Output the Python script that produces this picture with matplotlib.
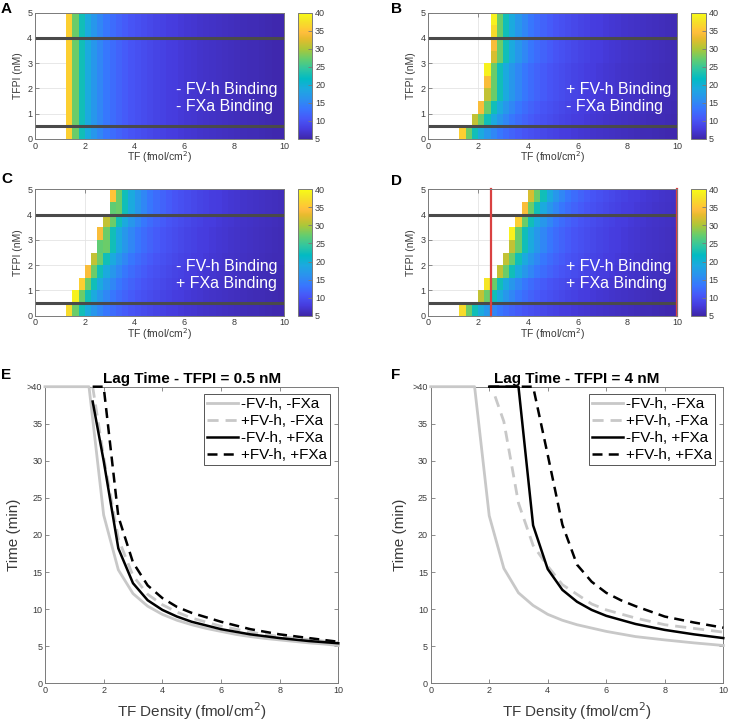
import numpy as np
import matplotlib
matplotlib.use('Agg')
import matplotlib.pyplot as plt
from matplotlib.colors import LinearSegmentedColormap

plt.rcParams['font.family'] = ['Liberation Sans', 'DejaVu Sans']

# ---- heatmap data (TF columns of 0.25, TFPI rows of 0.5 nM) ----
tf_edges = np.arange(0, 10.01, 0.25)
tfpi_edges = np.arange(0, 5.01, 0.5)

# lag time (min) in the cells after the first clotting cell of a row
lag_after_onset = [27.5, 22.5, 19.0, 16.8, 15.0, 13.6, 12.5, 11.6, 10.9, 10.3,
                   9.8, 9.4, 9.0, 8.6, 8.3, 8.0, 7.75, 7.5, 7.3, 7.1,
                   6.9, 6.7, 6.55, 6.4, 6.25, 6.1, 6.0, 5.9, 5.8, 5.7,
                   5.6, 5.5, 5.4, 5.3]

# first TF column that clots, per TFPI row (bottom to top), and its lag time
onset_A = [1.25, 1.25, 1.25, 1.25, 1.25, 1.25, 1.25, 1.25, 1.25, 1.25]
first_A = [36, 36, 36, 36, 36, 36, 36, 36, 36, 36]
onset_B = [1.25, 1.75, 2.0, 2.25, 2.25, 2.25, 2.5, 2.5, 2.5, 2.5]
first_B = [36, 31, 34, 31, 34, 39, 32, 34, 37, 39]
onset_C = [1.25, 1.5, 1.75, 2.0, 2.25, 2.5, 2.5, 2.75, 3.0, 3.0]
first_C = [37, 39, 36, 34, 31, 27, 34, 31, 27, 35]
onset_D = [1.25, 2.0, 2.25, 2.75, 3.0, 3.25, 3.25, 3.5, 3.75, 4.0]
first_D = [37, 31, 38, 31, 31, 31, 39, 36, 34, 32]

notes = ['- FV-h Binding\n- FXa Binding', '+ FV-h Binding\n- FXa Binding',
         '- FV-h Binding\n+ FXa Binding', '+ FV-h Binding\n+ FXa Binding']

# ---- lag time curves ----
series_labels = ['-FV-h, -FXa', '+FV-h, -FXa', '-FV-h, +FXa', '+FV-h, +FXa']

e_gs_x = [0, 1.5, 2.0, 2.5, 3.0, 3.5, 4.0, 4.5, 5.0, 5.5, 6.0, 6.5, 7.0, 7.5, 8.0, 8.5, 9.0, 9.5, 10.0]
e_gs_y = [40, 40, 22.7, 15.3, 12.1, 10.4, 9.3, 8.5, 7.9, 7.4, 7.0, 6.6, 6.3, 6.05, 5.85, 5.65, 5.45, 5.3, 5.1]
e_gd_x = [1.625, 2.0, 2.5, 3.0, 3.5, 4.0, 4.5, 5.0, 6.0, 7.0, 8.0, 9.0, 10.0]
e_gd_y = [40, 30.5, 19.5, 14.5, 12.0, 10.6, 9.6, 8.8, 7.7, 6.9, 6.3, 5.9, 5.5]
e_bs_x = [1.625, 2.0, 2.5, 3.0, 3.5, 4.0, 4.5, 5.0, 6.0, 7.0, 8.0, 9.0, 10.0]
e_bs_y = [38, 30, 18.2, 13.5, 11.2, 9.9, 9.0, 8.3, 7.3, 6.6, 6.1, 5.7, 5.4]
e_bd_x = [1.625, 2.0, 2.5, 3.0, 3.5, 4.0, 4.5, 5.0, 6.0, 7.0, 8.0, 9.0, 10.0]
e_bd_y = [40, 40, 22.5, 16.3, 13.2, 11.5, 10.3, 9.5, 8.3, 7.3, 6.6, 6.1, 5.6]

f_gs_x = [0, 1.5, 2.0, 2.5, 3.0, 3.5, 4.0, 4.5, 5.0, 6.0, 7.0, 8.0, 9.0, 10.0]
f_gs_y = [40, 40, 22.6, 15.5, 12.2, 10.5, 9.3, 8.5, 7.9, 7.0, 6.3, 5.85, 5.45, 5.1]
f_gd_x = [2.2, 2.5, 3.0, 3.5, 4.0, 4.5, 5.0, 5.5, 6.0, 7.0, 8.0, 9.0, 10.0]
f_gd_y = [38.7, 35.3, 24.3, 18.6, 15.8, 13.3, 12.0, 10.7, 9.9, 8.8, 7.9, 7.4, 6.9]
f_bs_x = [2.0, 3.0, 3.5, 4.0, 4.5, 5.0, 5.5, 6.0, 7.0, 8.0, 9.0, 10.0]
f_bs_y = [40, 40, 21.3, 15.4, 12.6, 11.0, 9.9, 9.1, 8.0, 7.2, 6.6, 6.1]
f_bd_x = [2.0, 3.5, 4.0, 4.5, 5.0, 5.5, 6.0, 6.5, 7.0, 8.0, 9.0, 10.0]
f_bd_y = [40, 40, 30.8, 21.4, 16.0, 13.7, 12.2, 11.2, 10.4, 9.0, 8.2, 7.5]

# parula-like colormap
parula = LinearSegmentedColormap.from_list('parula', [
    (0.000, (0.2422, 0.1504, 0.6603)),
    (0.079, (0.2751, 0.2342, 0.8710)),
    (0.159, (0.2795, 0.3447, 0.9717)),
    (0.238, (0.2206, 0.4603, 0.9973)),
    (0.317, (0.1687, 0.5703, 0.9359)),
    (0.397, (0.1113, 0.6635, 0.8763)),
    (0.476, (0.0067, 0.7312, 0.7660)),
    (0.556, (0.1938, 0.7758, 0.6251)),
    (0.635, (0.3909, 0.8029, 0.4354)),
    (0.714, (0.6720, 0.7793, 0.2227)),
    (0.794, (0.9035, 0.7330, 0.1774)),
    (0.841, (0.9956, 0.7434, 0.2371)),
    (0.873, (0.9952, 0.7893, 0.2028)),
    (0.921, (0.9676, 0.8639, 0.1643)),
    (0.952, (0.9597, 0.9135, 0.1423)),
    (1.000, (0.9769, 0.9839, 0.0805)),
])

AXC = '#7a7a7a'
TXC = '#3a3a3a'


def style_axes(ax, size):
    for s in ax.spines.values():
        s.set_color(AXC)
        s.set_linewidth(0.7)
    ax.tick_params(direction='in', length=3, width=0.6, colors=AXC,
                   labelcolor=TXC, labelsize=size, top=True, right=True, pad=2)


def heat_panel(ax, cax, onset, first, note):
    Z = np.full((len(tfpi_edges) - 1, len(tf_edges) - 1), np.nan)
    for r in range(len(onset)):
        c0 = int(round(onset[r] / 0.25))
        Z[r, c0] = first[r]
        n = Z.shape[1] - c0 - 1
        Z[r, c0 + 1:] = lag_after_onset[:n]
    m = ax.pcolormesh(tf_edges, tfpi_edges, Z, cmap=parula, vmin=5, vmax=40)
    ax.set_xlim(0, 10)
    ax.set_ylim(0, 5)
    ax.set_xticks([0, 2, 4, 6, 8, 10])
    ax.set_yticks([0, 1, 2, 3, 4, 5])
    ax.set_axisbelow(True)
    ax.grid(True, color='#e4e4e4', lw=0.6)
    for yv in (0.5, 4):
        ax.axhline(yv, color='#4a4a4a', lw=2.2)
    ax.text(9.75, 1.62, note, ha='right', va='center', multialignment='left',
            color='white', fontsize=11.5, linespacing=1.15)
    ax.set_xlabel('TF (fmol/cm$^2$)', fontsize=7.5, color=TXC, labelpad=-1)
    ax.set_ylabel('TFPI (nM)', fontsize=7.5, color=TXC, labelpad=3)
    style_axes(ax, 6.5)
    cb = fig.colorbar(m, cax=cax, ticks=range(5, 45, 5))
    cb.outline.set_edgecolor(AXC)
    cb.outline.set_linewidth(0.7)
    cax.tick_params(direction='in', length=3, width=0.6, colors=AXC,
                    labelcolor=TXC, labelsize=6.5, pad=2)
    return ax


def lag_panel(ax, curves, title):
    styles = [dict(color='#c8c8c8', lw=2.0),
              dict(color='#c8c8c8', lw=2.0, ls='--', dashes=(4, 2.5)),
              dict(color='black', lw=1.8),
              dict(color='black', lw=1.8, ls='--', dashes=(4, 2.5))]
    for (x, y), st, lab in zip(curves, styles, series_labels):
        ax.plot(x, y, label=lab, clip_on=False, zorder=3, **st)
    ax.set_xlim(0, 10)
    ax.set_ylim(0, 40)
    ax.set_xticks([0, 2, 4, 6, 8, 10])
    ax.set_yticks(range(0, 45, 5))
    ax.set_yticklabels(['0', '5', '10', '15', '20', '25', '30', '35', '>40'])
    ax.set_title(title, fontsize=11, fontweight='bold', pad=3)
    ax.set_xlabel('TF Density (fmol/cm$^2$)', fontsize=11, color=TXC, labelpad=4)
    ax.set_ylabel('Time (min)', fontsize=11, color=TXC, labelpad=4)
    style_axes(ax, 6.5)
    leg = ax.legend(loc='upper right', bbox_to_anchor=(0.972, 0.975), borderaxespad=0,
                    fontsize=11, handlelength=2.0, handletextpad=0.2, labelspacing=0.2,
                    borderpad=0.2, fancybox=False, framealpha=1)
    leg.set_zorder(5)
    leg.get_frame().set_edgecolor('#555555')
    leg.get_frame().set_linewidth(0.7)


W, H = 729, 723
fig = plt.figure(figsize=(W / 100, H / 100), dpi=100)


def box(l, t, r, b):
    return [l / W, 1 - b / H, (r - l) / W, (b - t) / H]


axA = fig.add_axes(box(35, 12.7, 284, 139))
cA = fig.add_axes(box(297.7, 12.7, 312.3, 139))
axB = fig.add_axes(box(428.3, 12.7, 677.3, 139))
cB = fig.add_axes(box(691, 12.7, 705.7, 139))
axC = fig.add_axes(box(35, 189.3, 284, 315.7))
cC = fig.add_axes(box(297.7, 189.3, 312.3, 315.7))
axD = fig.add_axes(box(428.3, 189.3, 677.3, 315.7))
cD = fig.add_axes(box(691, 189.3, 705.7, 315.7))
axE = fig.add_axes(box(45, 386.7, 338.3, 683.3))
axF = fig.add_axes(box(430.7, 386.7, 723.3, 683.3))

heat_panel(axA, cA, onset_A, first_A, notes[0])
heat_panel(axB, cB, onset_B, first_B, notes[1])
heat_panel(axC, cC, onset_C, first_C, notes[2])
heat_panel(axD, cD, onset_D, first_D, notes[3])
for xv in (2.5, 10):
    axD.axvline(xv, color='#d94141', lw=1.6, clip_on=False)

lag_panel(axE, [(e_gs_x, e_gs_y), (e_gd_x, e_gd_y), (e_bs_x, e_bs_y), (e_bd_x, e_bd_y)],
          'Lag Time - TFPI = 0.5 nM')
lag_panel(axF, [(f_gs_x, f_gs_y), (f_gd_x, f_gd_y), (f_bs_x, f_bs_y), (f_bd_x, f_bd_y)],
          'Lag Time - TFPI = 4 nM')

for lab, (px, py) in zip('ABCDEF', [(1, 2), (391, 2), (1, 172), (391, 174), (1, 368), (391, 368)]):
    fig.text(px / W, 1 - py / H, lab, fontsize=11, fontweight='bold', ha='left', va='top')

fig.savefig('out.png', dpi=100)
